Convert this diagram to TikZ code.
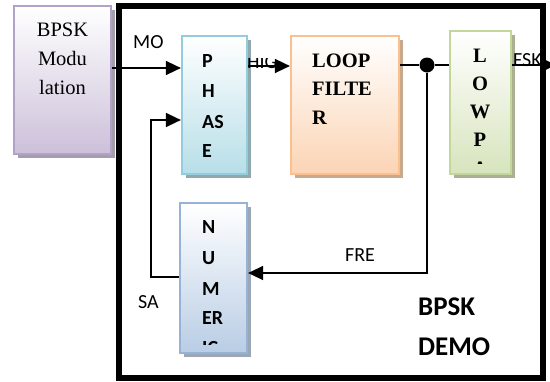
\documentclass[tikz,border=0pt]{standalone}
\usepackage{fontspec}
\setmainfont{Liberation Serif}
\setsansfont{Carlito}
\usetikzlibrary{arrows.meta}

% box colours: border, lower fill, shadow
\definecolor{modline}{HTML}{B3A2C7}\definecolor{modbot}{HTML}{CCC0DA}\definecolor{modsh}{HTML}{A59CAE}
\definecolor{phline}{HTML}{93CDDD}\definecolor{phbot}{HTML}{B7DEE8}\definecolor{phsh}{HTML}{8FA9AE}
\definecolor{lfline}{HTML}{FAC08F}\definecolor{lfbot}{HTML}{FBD4B4}\definecolor{lfsh}{HTML}{C9A98C}
\definecolor{lpline}{HTML}{C3D69B}\definecolor{lpbot}{HTML}{D7E4BD}\definecolor{lpsh}{HTML}{A9B192}
\definecolor{ncline}{HTML}{95B3D7}\definecolor{ncbot}{HTML}{B9CDE5}\definecolor{ncsh}{HTML}{9BA7B5}

% \blockbox{name}{x1}{y1}{x2}{y2}{border}{bottom}{shadow}
\newcommand{\blockbox}[8]{%
  \fill[#8] (#2+4,#3+4) rectangle (#4+4,#5+4);
  \node[blk, draw=#6, bottom color=#7,
        minimum width={#4-#2}, minimum height={#5-#3}] (#1) at ({(#2+#4)/2},{(#3+#5)/2}) {};
}

\begin{document}
\begin{tikzpicture}[x=1pt,y=-1pt,
  blk/.style={rectangle, inner sep=0pt, line width=2.2pt, top color=white},
  arr/.style={line width=1.5pt, -{Triangle[length=15pt,width=14pt]}},
  wire/.style={line width=1.5pt},
  sertxt/.style={font=\fontsize{20.5}{24}\selectfont, inner sep=0pt},
  serbold/.style={font=\fontsize{20.5}{24}\selectfont\bfseries, inner sep=0pt},
  sansbold/.style={font=\sffamily\fontsize{20}{24}\selectfont\bfseries, inner sep=0pt},
  lbl/.style={font=\sffamily\fontsize{20}{24}\selectfont, inner sep=0pt, anchor=base west},
  biglbl/.style={font=\sffamily\fontsize{27}{32}\selectfont\bfseries, inner sep=0pt, anchor=base west}]
\clip (0,0) rectangle (550,381);
\fill[white] (0,0) rectangle (550,381);

% outer demo frame
\node[draw, line width=5.5pt, rectangle, inner sep=0pt,
      minimum width=424, minimum height=372] (frame) at (331,192) {};

% blocks
\blockbox{mod}{14}{6}{111}{154}{modline}{modbot}{modsh}
\blockbox{phase}{182}{36}{247}{174}{phline}{phbot}{phsh}
\blockbox{loop}{291}{36}{399}{174}{lfline}{lfbot}{lfsh}
\blockbox{lowp}{450}{31}{511}{174}{lpline}{lpbot}{lpsh}
\blockbox{num}{180}{203}{247}{353}{ncline}{ncbot}{ncsh}

% block texts
\node[sertxt, anchor=base] (m1) at (62.5,36.5) {BPSK};
\node[sertxt, anchor=base] (m2) at (62.5,65) {Modu};
\node[sertxt, anchor=base] (m3) at (62.5,94) {lation};

\node[sansbold, anchor=base west] (p1) at (202,67) {P};
\node[sansbold, anchor=base west] (p2) at (202,97) {H};
\node[sansbold, anchor=base west] (p3) at (202,128) {AS};
\node[sansbold, anchor=base west] (p4) at (202,157) {E};

\node[serbold, anchor=base west] (f1) at (312,67) {LOOP};
\node[serbold, anchor=base west] (f2) at (312,95.5) {FILTE};
\node[serbold, anchor=base west] (f3) at (312,124) {R};

\begin{scope}
  \clip (450,31) rectangle (511,163);
  \node[serbold, anchor=base] (w1) at (480,62) {L};
  \node[serbold, anchor=base] (w2) at (480,90) {O};
  \node[serbold, anchor=base] (w3) at (480,118) {W};
  \node[serbold, anchor=base] (w4) at (480,146.5) {P};
  \node[serbold, anchor=base] (w5) at (480,175) {A};
\end{scope}

\begin{scope}
  \clip (180,203) rectangle (247,344.5);
  \node[sansbold, anchor=base west] (n1) at (202,233) {N};
  \node[sansbold, anchor=base west] (n2) at (202,264) {U};
  \node[sansbold, anchor=base west] (n3) at (202,295) {M};
  \node[sansbold, anchor=base west] (n4) at (202,324) {ER};
  \node[sansbold, anchor=base west] (n5) at (202,354) {IC};
\end{scope}

% signal labels
\node[lbl] (lmo) at (133,48) {MO};
\begin{scope}
  \clip (247,58) rectangle (290,75);
  \node[lbl] (lhi) at (247,68) {HIG};
\end{scope}
\node[lbl] (lfs) at (513,66) {FSK};
\node[lbl] (lfr) at (345,261) {FRE};
\node[lbl] (lsa) at (138,308) {SA};
\node[biglbl] (ld1) at (418,315) {BPSK};
\node[biglbl] (ld2) at (418,355) {DEMO};

% reference points for the wires
\coordinate (ymo) at (0,68);
\coordinate (yhi) at (0,66);
\coordinate (yfb) at (0,120);
\coordinate (yfr) at (0,273);
\coordinate (ysa) at (0,277);
\coordinate (xfb) at (151,0);
\coordinate (fskend) at (556,65);
\node[circle, fill=black, inner sep=0pt, minimum size=15pt] (junc) at (427,65) {};

% wires
\draw[arr] (mod.east |- ymo) -- (phase.west |- ymo);
\draw[arr] (phase.east |- yhi) -- (loop.west |- yhi);
\draw[wire] (loop.east |- junc) -- (junc) -- (lowp.west |- junc);
\draw[arr] (lowp.east |- junc) -- (fskend);
\draw[arr] (junc) -- (junc |- yfr) -- (num.east |- yfr);
\draw[arr] (num.west |- ysa) -- (xfb |- ysa) -- (xfb |- yfb) -- (phase.west |- yfb);
\end{tikzpicture}
\end{document}
